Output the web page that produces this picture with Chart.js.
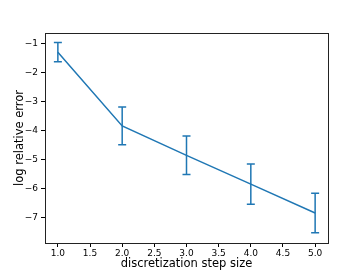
<!DOCTYPE html>
<html>
<head>
<meta charset="utf-8">
<script src="https://cdn.jsdelivr.net/npm/chart.js@4/dist/chart.umd.min.js"></script>
<style>
  html, body { margin: 0; padding: 0; background: #fff; }
  canvas { display: block; }
</style>
</head>
<body>
<canvas id="errChart" width="364" height="273"></canvas>
<script>
// data
const stepSizes = [1, 2, 3, 4, 5];
const logErrors = [-1.31, -3.84, -4.85, -5.84, -6.83];
const errorSizes = [0.33, 0.65, 0.66, 0.69, 0.68];

const lineColor = '#1f77b4';
const minus = v => String(v).replace('-', '\u2212');

// draw the error bars with the chart's own scales
const errorBarPlugin = {
    id: 'errorBars',
    afterDatasetsDraw(chart) {
        const ctx = chart.ctx;
        const xs = chart.scales.x;
        const ys = chart.scales.y;
        ctx.save();
        ctx.strokeStyle = lineColor;
        ctx.lineWidth = 1.5;
        stepSizes.forEach((s, i) => {
            const px = xs.getPixelForValue(s);
            const top = ys.getPixelForValue(logErrors[i] + errorSizes[i]);
            const bot = ys.getPixelForValue(logErrors[i] - errorSizes[i]);
            ctx.beginPath();
            ctx.moveTo(px, top);
            ctx.lineTo(px, bot);
            ctx.moveTo(px - 4, top);
            ctx.lineTo(px + 4, top);
            ctx.moveTo(px - 4, bot);
            ctx.lineTo(px + 4, bot);
            ctx.stroke();
        });
        ctx.restore();
    }
};

// box around the plot area
const framePlugin = {
    id: 'frame',
    afterDraw(chart) {
        const a = chart.chartArea;
        const ctx = chart.ctx;
        ctx.save();
        ctx.strokeStyle = '#222';
        ctx.lineWidth = 1;
        ctx.strokeRect(Math.round(a.left) + 0.5, Math.round(a.top) + 0.5,
            Math.round(a.right - a.left), Math.round(a.bottom - a.top));
        ctx.restore();
    }
};

Chart.defaults.font.family = '"DejaVu Sans", sans-serif';
Chart.defaults.color = '#000';

new Chart(document.getElementById('errChart').getContext('2d'), {
    type: 'line',
    data: {
        datasets: [{
            data: stepSizes.map((s, i) => ({ x: s, y: logErrors[i] })),
            borderColor: lineColor,
            borderWidth: 1.5,
            pointRadius: 0,
            fill: false,
            tension: 0,
        }],
    },
    options: {
        responsive: false,
        animation: false,
        devicePixelRatio: 1,
        layout: {
            padding: { left: 13, top: 33, right: 36, bottom: 2 },
        },
        plugins: {
            legend: { display: false },
            tooltip: { enabled: false },
        },
        scales: {
            x: {
                type: 'linear',
                min: 0.8,
                max: 5.2,
                afterFit: scale => { scale.height = 28; },
                grid: { drawOnChartArea: false, tickLength: 4, color: '#000' },
                border: { display: false },
                ticks: {
                    stepSize: 0.5,
                    includeBounds: false,
                    padding: 1,
                    maxRotation: 0,
                    font: { size: 9 },
                    callback: v => v.toFixed(1),
                },
                title: {
                    display: true,
                    text: 'discretization step size',
                    font: { size: 11.5 },
                    padding: { top: 0, bottom: 0 },
                },
            },
            y: {
                min: -7.86,
                max: -0.65,
                afterFit: scale => { scale.width = 32; },
                grid: { drawOnChartArea: false, tickLength: 4, color: '#000' },
                border: { display: false },
                ticks: {
                    stepSize: 1,
                    includeBounds: false,
                    padding: 3,
                    font: { size: 9 },
                    callback: v => minus(v),
                },
                title: {
                    display: true,
                    text: 'log relative error',
                    font: { size: 11.5 },
                    padding: { top: 0, bottom: 0 },
                },
            },
        },
    },
    plugins: [errorBarPlugin, framePlugin],
});
</script>
</body>
</html>
